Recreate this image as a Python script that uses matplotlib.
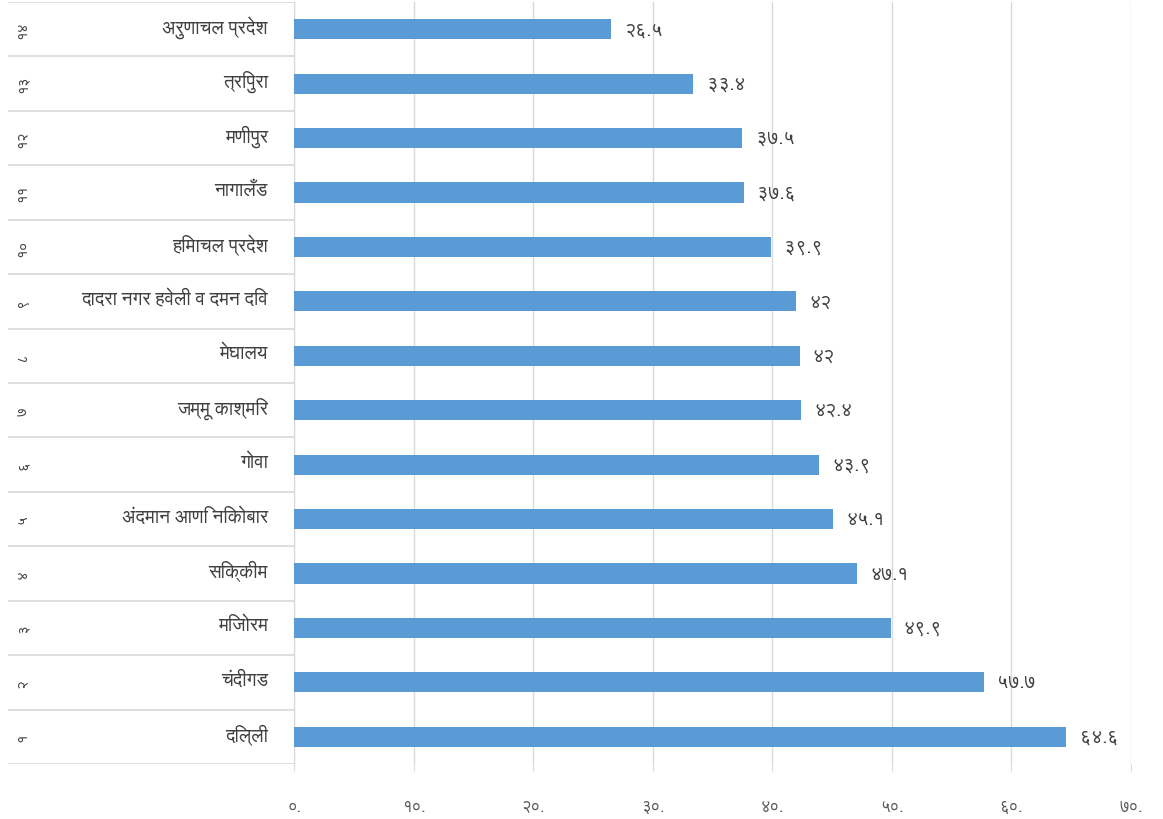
import matplotlib
matplotlib.use("Agg")
import matplotlib.pyplot as plt

plt.rcParams['font.family'] = ['FreeSans', 'DejaVu Sans']

# data, top row first
states = ["अरुणाचल प्रदेश", "त्रिपुरा", "मणीपुर", "नागालँड", "हिमाचल प्रदेश",
          "दादरा नगर हवेली व दमन दिव", "मेघालय", "जम्मू काश्मिर", "गोवा",
          "अंदमान आणि निकोबार", "सिक्कीम", "मिजोरम", "चंदीगड", "दिल्ली"]
ranks = [14, 13, 12, 11, 10, 9, 8, 7, 6, 5, 4, 3, 2, 1]
values = [26.5, 33.4, 37.5, 37.6, 39.9, 42.0, 42.3, 42.4, 43.9, 45.1, 47.1, 49.9, 57.7, 64.6]
value_labels = ["26.5", "33.4", "37.5", "37.6", "39.9", "42", "42", "42.4", "43.9",
                "45.1", "47.1", "49.9", "57.7", "64.6"]
xticks = [0, 10, 20, 30, 40, 50, 60, 70]

DEV = str.maketrans("0123456789", "०१२३४५६७८९")


def dev(s):
    return str(s).translate(DEV)


W, H = 1163, 820
fig = plt.figure(figsize=(W / 100, H / 100), dpi=100)
top, bottom = 3, 765
ax = fig.add_axes([294 / W, (H - bottom) / H, (1131 - 294) / W, (bottom - top) / H])
tab = fig.add_axes([8 / W, (H - bottom) / H, (294 - 8) / W, (bottom - top) / H])

n = len(states)
ypos = list(range(n - 1, -1, -1))
grid_c = "#d9d9d9"
text_c = "#404040"

ax.barh(ypos, values, height=0.37, color="#5b9bd5", zorder=3)
for y, v, lab in zip(ypos, values, value_labels):
    ax.text(v + 1.1, y, dev(lab), va="center", ha="left", fontsize=14, color=text_c)

ax.set_xlim(0, 70)
ax.set_ylim(-0.5, n - 0.5)
ax.set_xticks(xticks)
ax.set_xticklabels([dev(t) + "." for t in xticks], fontsize=12, color="#595959")
ax.set_yticks([])
ax.grid(axis="x", color=grid_c, linewidth=1, zorder=0)
ax.tick_params(axis="x", length=5, color=grid_c, pad=20)
for s in ["top", "right", "bottom"]:
    ax.spines[s].set_visible(False)
ax.spines["left"].set_color(grid_c)

# category table on the left
tab.set_xlim(0, 1)
tab.set_ylim(-0.5, n - 0.5)
tab.axis("off")
for k in range(n + 1):
    tab.axhline(k - 0.5, color=grid_c, linewidth=1.2)
for y, name, r in zip(ypos, states, ranks):
    tab.text(0.909, y + 0.05, name, ha="right", va="center", fontsize=13.5, color=text_c)
    tab.text(0.05, y, dev(r), ha="center", va="center", rotation=90, fontsize=11, color=text_c)

fig.savefig("out.png", dpi=100)
